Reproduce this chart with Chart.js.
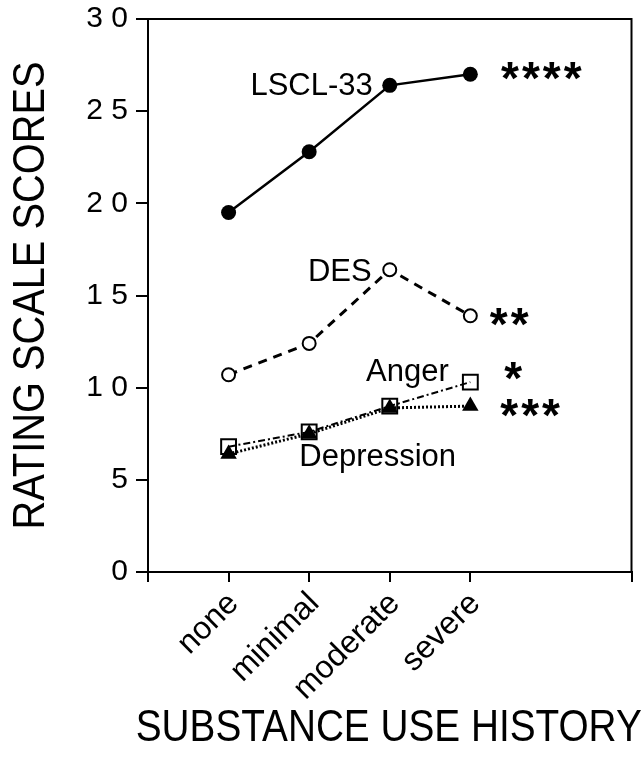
<!DOCTYPE html>
<html>
<head>
<meta charset="utf-8">
<script src="https://cdn.jsdelivr.net/npm/chart.js@4.4.1/dist/chart.umd.min.js"></script>
<style>
  html, body { margin: 0; padding: 0; background: #fff; }
  #wrap { width: 644px; height: 776px; }
</style>
</head>
<body>
<div id="wrap"><canvas id="chart" width="644" height="776"></canvas></div>
<script>
// Substance use history groups (x positions 0..3 on a -1..5 axis)
const categories = ["none", "minimal", "moderate", "severe"];
const lsclScores = [19.5, 22.8, 26.4, 27.0];
const desScores = [10.7, 12.4, 16.4, 13.9];
const angerScores = [6.8, 7.6, 9.0, 10.3];
const depressionScores = [6.4, 7.5, 8.9, 9.0];
const yTicks = [0, 5, 10, 15, 20, 25, 30];

const X_TITLE = "SUBSTANCE USE HISTORY";
const Y_TITLE = "RATING SCALE SCORES";

const FONT = "'Liberation Sans', Arial, Helvetica, sans-serif";

// text labels placed in data coordinates (x index, y score)
const seriesNotes = [
  { text: "LSCL-33", x: 1.03, y: 26.5 },
  { text: "DES", x: 1.38, y: 16.4 },
  { text: "Anger", x: 2.22, y: 10.95 },
  { text: "Depression", x: 1.85, y: 6.35 },
];
const starNotes = [
  { text: "****", x: 3.9, y: 27.2 },
  { text: "**", x: 3.5, y: 13.85 },
  { text: "*", x: 3.55, y: 10.9 },
  { text: "***", x: 3.76, y: 8.9 },
];

const toPoints = (vals) => vals.map((v, i) => ({ x: i, y: v }));

// frame lines, axis titles (narrow, like the original) and text annotations
const notesPlugin = {
  id: "notes",
  afterDraw(chart) {
    const { ctx, chartArea: a } = chart;
    const xs = chart.scales.x, ys = chart.scales.y;
    ctx.save();
    ctx.strokeStyle = "#000";
    ctx.lineWidth = 2;
    ctx.beginPath();
    ctx.moveTo(a.left, a.top);
    ctx.lineTo(a.right, a.top);
    ctx.lineTo(a.right, a.bottom);
    ctx.stroke();

    ctx.fillStyle = "#000";
    ctx.textAlign = "center";
    ctx.textBaseline = "middle";
    ctx.font = "45px " + FONT;
    ctx.fillText(X_TITLE, (a.left + a.right) / 2 - 1, 729, 506);
    ctx.save();
    ctx.translate(32, (a.top + a.bottom) / 2);
    ctx.rotate(-Math.PI / 2);
    ctx.font = "44px " + FONT;
    ctx.fillText(Y_TITLE, 0, 0, 468);
    ctx.restore();

    ctx.textBaseline = "alphabetic";
    ctx.font = "31px " + FONT;
    seriesNotes.forEach((n) => {
      const px = xs.getPixelForValue(n.x);
      const py = ys.getPixelForValue(n.y);
      ctx.fillText(n.text, px, py + 0.358 * 31);
    });

    ctx.font = "bold 46px " + FONT;
    if ("letterSpacing" in ctx) ctx.letterSpacing = "3px";
    starNotes.forEach((n) => {
      const px = xs.getPixelForValue(n.x);
      const py = ys.getPixelForValue(n.y);
      const m = ctx.measureText(n.text);
      const off = (m.actualBoundingBoxAscent - m.actualBoundingBoxDescent) / 2;
      ctx.fillText(n.text, px, py + off);
    });
    ctx.restore();
  },
};

new Chart(document.getElementById("chart"), {
  type: "line",
  data: {
    datasets: [
      {
        label: "LSCL-33",
        data: toPoints(lsclScores),
        borderColor: "#000",
        borderWidth: 2.5,
        pointStyle: "circle",
        pointRadius: 7.5,
        pointBackgroundColor: "#000",
        pointBorderColor: "#000",
        pointBorderWidth: 0,
      },
      {
        label: "DES",
        data: toPoints(desScores),
        borderColor: "#000",
        borderWidth: 3,
        borderDash: [9, 7],
        pointStyle: "circle",
        pointRadius: 6.5,
        pointBackgroundColor: "#fff",
        pointBorderColor: "#000",
        pointBorderWidth: 2,
      },
      {
        label: "Anger",
        data: toPoints(angerScores),
        borderColor: "#000",
        borderWidth: 2,
        borderDash: [7, 3, 2, 3],
        pointStyle: "rect",
        pointRadius: 10.5,
        pointBackgroundColor: "rgba(0,0,0,0)",
        pointBorderColor: "#000",
        pointBorderWidth: 2,
      },
      {
        label: "Depression",
        data: toPoints(depressionScores),
        borderColor: "#000",
        borderWidth: 3,
        borderDash: [2, 2],
        pointStyle: "triangle",
        pointRadius: 9.5,
        pointBackgroundColor: "#000",
        pointBorderColor: "#000",
        pointBorderWidth: 0,
      },
    ],
  },
  options: {
    responsive: false,
    animation: false,
    layout: { padding: { top: 19, right: 12, left: 0, bottom: 0 } },
    plugins: { legend: { display: false }, tooltip: { enabled: false } },
    scales: {
      x: {
        type: "linear",
        min: -1,
        max: 5,
        afterFit: (s) => {
          s.height = 204;
          s.paddingLeft = 0;
          s.paddingRight = 0;
        },
        afterBuildTicks: (s) => {
          s.ticks = [-1, 0, 1, 2, 3, 4, 5].map((v) => ({ value: v }));
        },
        border: { display: true, color: "#000", width: 2 },
        grid: {
          drawOnChartArea: false,
          drawTicks: true,
          tickLength: 10,
          lineWidth: 2,
          color: (c) => (c.tick && c.tick.value === 4 ? "rgba(0,0,0,0)" : "#000"),
        },
        ticks: {
          autoSkip: false,
          minRotation: 45,
          maxRotation: 45,
          padding: 3,
          labelOffset: 5,
          color: "#000",
          font: { family: FONT, size: 32 },
          callback: (v) => categories[v] ?? "",
        },
        title: { display: false },
      },
      y: {
        min: 0,
        max: 30,
        afterFit: (s) => {
          s.width = 148;
          s.paddingTop = 0;
          s.paddingBottom = 0;
        },
        afterBuildTicks: (s) => {
          s.ticks = yTicks.map((v) => ({ value: v }));
        },
        border: { display: true, color: "#000", width: 2 },
        grid: {
          drawOnChartArea: false,
          drawTicks: true,
          tickLength: 12,
          lineWidth: 2,
          color: "#000",
        },
        ticks: {
          padding: 8,
          color: "#000",
          font: { family: FONT, size: 30 },
          callback: (v) => String(v).split("").join(" "),
        },
        title: { display: false },
      },
    },
  },
  plugins: [notesPlugin],
});
</script>
</body>
</html>
